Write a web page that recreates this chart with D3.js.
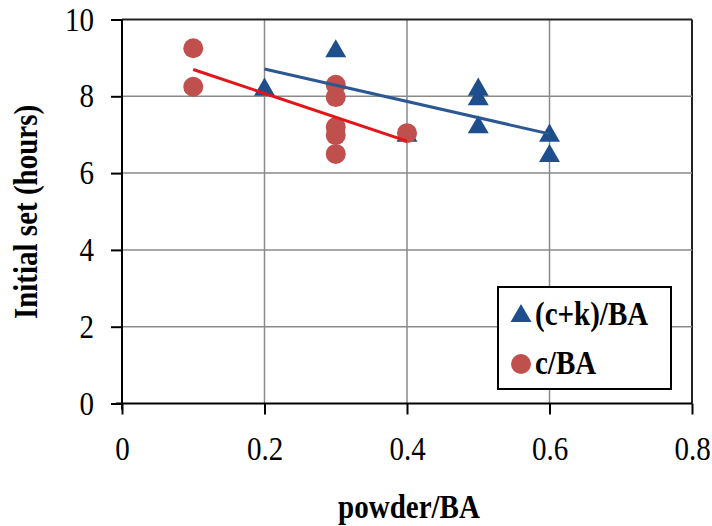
<!DOCTYPE html>
<html><head><meta charset="utf-8">
<script src="https://cdn.jsdelivr.net/npm/d3@7"></script>
<style>html,body{margin:0;padding:0;background:#fff;}svg{display:block;}
.stretch{transform-box:fill-box;transform-origin:center;transform:scaleY(1.13);}
</style>
</head><body>
<svg id="chart" width="712" height="526"></svg>
<script>
// ---- data ----
const seriesNames = ["(c+k)/BA", "c/BA"];
const ckX = [0.2, 0.3, 0.4, 0.5, 0.5, 0.5, 0.6, 0.6];
const ckY = [8.2, 9.2, 7.0, 8.2, 7.95, 7.22, 7.0, 6.47];
const cX = [0.1, 0.1, 0.3, 0.3, 0.3, 0.3, 0.3, 0.4];
const cY = [9.25, 8.25, 8.3, 7.98, 7.2, 6.99, 6.5, 7.04];
const xTicks = [0, 0.2, 0.4, 0.6, 0.8];
const yTicks = [0, 2, 4, 6, 8, 10];
const xTitle = "powder/BA";
const yTitle = "Initial set (hours)";

// ---- layout ----
const svg = d3.select("#chart");
const x = d3.scaleLinear().domain([0, 0.8]).range([122, 692]);
const y = d3.scaleLinear().domain([0, 10]).range([403.5, 19.5]);
const serif = "'Liberation Serif','Times New Roman',serif";

function fit(xs, ys) {
  const mx = d3.mean(xs), my = d3.mean(ys);
  let sxy = 0, sxx = 0;
  xs.forEach((v, i) => { sxy += (v - mx) * (ys[i] - my); sxx += (v - mx) * (v - mx); });
  const b = sxy / sxx, a = my - b * mx;
  const [x0, x1] = d3.extent(xs);
  return [[x0, a + b * x0], [x1, a + b * x1]];
}

// gridlines
const grid = svg.append("g");
grid.selectAll("line.v").data(xTicks.filter(d => d > 0)).join("line")
  .attr("x1", d => x(d)).attr("x2", d => x(d)).attr("y1", y(10)).attr("y2", y(0))
  .attr("stroke", d => d === 0.8 ? "#222" : "#8a8a8a").attr("stroke-width", d => d === 0.8 ? 2 : 1.5);
grid.selectAll("line.h").data(yTicks.filter(d => d > 0)).join("line")
  .attr("x1", x(0)).attr("x2", x(0.8)).attr("y1", d => y(d)).attr("y2", d => y(d))
  .attr("stroke", d => d === 10 ? "#222" : "#8a8a8a").attr("stroke-width", d => d === 10 ? 2 : 1.5);

// axes
const xAxis = svg.append("g").attr("transform", `translate(0,${y(0)})`)
  .call(d3.axisBottom(x).tickValues(xTicks).tickSize(11).tickPadding(24).tickFormat(d3.format("")));
const yAxis = svg.append("g").attr("transform", `translate(${x(0)},0)`)
  .call(d3.axisLeft(y).tickValues(yTicks).tickSize(11).tickPadding(17).tickFormat(d3.format("")));
[xAxis, yAxis].forEach(g => {
  g.select(".domain").attr("stroke", "#000").attr("stroke-width", 2);
  g.selectAll(".tick line").attr("stroke", "#000").attr("stroke-width", 2);
  g.selectAll(".tick text").attr("font-family", serif).attr("font-size", 29).attr("fill", "#000")
    .attr("class", "stretch");
});
xAxis.select(".domain").attr("d", `M${x(0) - 6},0H${x(0.8)}`);
yAxis.select(".domain").attr("d", `M0,${y(10)}V${y(0) + 6}`);

// markers
const tri = d3.symbol().type(d3.symbolTriangle).size(190);
svg.append("g").selectAll("path").data(ckX.map((v, i) => [v, ckY[i]])).join("path")
  .attr("d", tri).attr("transform", d => `translate(${x(d[0])},${y(d[1]) + 1})`)
  .attr("fill", "#1F4E8C");
svg.append("g").selectAll("circle").data(cX.map((v, i) => [v, cY[i]])).join("circle")
  .attr("cx", d => x(d[0])).attr("cy", d => y(d[1])).attr("r", 10)
  .attr("fill", "#C0504D");

// trend lines
const line = d3.line().x(d => x(d[0])).y(d => y(d[1]));
svg.append("path").attr("d", line(fit(ckX, ckY))).attr("stroke", "#2B5793").attr("stroke-width", 3).attr("fill", "none");
svg.append("path").attr("d", line(fit(cX, cY))).attr("stroke", "#E3151A").attr("stroke-width", 3).attr("fill", "none");

// titles
svg.append("text").attr("x", 409).attr("y", 517).attr("text-anchor", "middle").attr("class", "stretch")
  .attr("font-family", serif).attr("font-weight", "bold").attr("font-size", 29).text(xTitle);
svg.append("g").attr("transform", "translate(36,212) rotate(-90)")
  .append("text").attr("text-anchor", "middle")
  .attr("font-family", serif).attr("font-weight", "bold").attr("font-size", 29).attr("class", "stretch").text(yTitle);

// legend
const lg = svg.append("g");
lg.append("rect").attr("x", 498).attr("y", 287).attr("width", 173).attr("height", 102)
  .attr("fill", "#fff").attr("stroke", "#000").attr("stroke-width", 2);
lg.append("path").attr("d", tri).attr("transform", "translate(521,316)").attr("fill", "#1F4E8C");
lg.append("circle").attr("cx", 521).attr("cy", 364).attr("r", 10).attr("fill", "#C0504D");
lg.selectAll("text").data(seriesNames).join("text")
  .attr("x", 535).attr("y", (d, i) => 324 + i * 49).attr("class", "stretch")
  .attr("font-family", serif).attr("font-weight", "bold").attr("font-size", 29).text(d => d);
</script>
</body></html>
